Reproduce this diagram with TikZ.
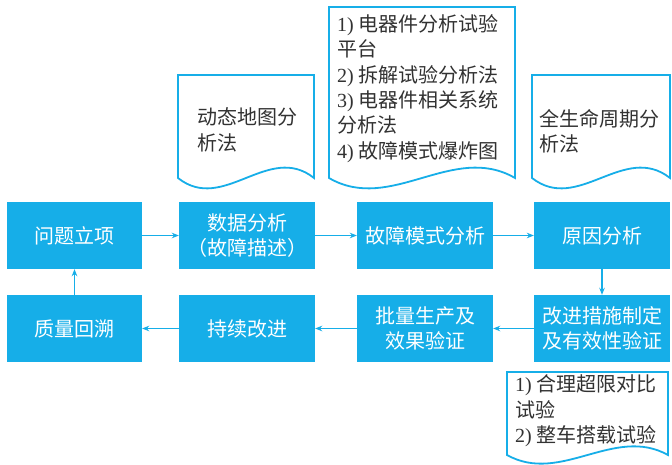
\documentclass[tikz,border=0pt]{standalone}
\usepackage{fontspec}
\setmainfont{Liberation Serif}
\newfontfamily\cjk{Noto Sans CJK SC}
\usetikzlibrary{arrows.meta}
\definecolor{flowblue}{RGB}{22,174,232}
\definecolor{doctext}{RGB}{50,50,50}
\tikzset{
  procbox/.style={fill=flowblue, draw=none, inner sep=0pt, minimum width=136pt, minimum height=67pt,
    text=white, font=\cjk\fontsize{20}{25}\selectfont, align=center},
  flowarrow/.style={draw=flowblue, line width=1.5pt, -{Stealth[length=7pt,width=5.5pt]}},
  docline/.style={draw=flowblue, line width=1.8pt, line join=miter},
  doctxt/.style={text=doctext, font=\cjk\fontsize{20}{25.4}\selectfont, align=left, inner sep=0pt, anchor=west}
}
\begin{document}
\begin{tikzpicture}[x=1pt,y=-1pt]
\useasboundingbox[fill=white] (0,0) rectangle (672,465);
% process boxes
\node[procbox, minimum width=135pt] (b1) at (74.5,235.5) {问题立项};
\node[procbox] (b2) at (247,235.5) {数据分析\\（故障描述）};
\node[procbox] (b3) at (425,235.5) {故障模式分析};
\node[procbox] (b4) at (602,235.5) {原因分析};
\node[procbox, minimum width=135pt] (c1) at (74.5,328.5) {质量回溯};
\node[procbox] (c2) at (247,328.5) {持续改进};
\node[procbox] (c3) at (425,328.5) {批量生产及\\效果验证};
\node[procbox] (c4) at (602,328.5) {改进措施制定\\及有效性验证};
% connectors
\draw[flowarrow] (b1) -- (b2);
\draw[flowarrow] (b2) -- (b3);
\draw[flowarrow] (b3) -- (b4);
\draw[flowarrow] (b4) -- (c4);
\draw[flowarrow] (c4) -- (c3);
\draw[flowarrow] (c3) -- (c2);
\draw[flowarrow] (c2) -- (c1);
\draw[flowarrow] (c1) -- (b1);
% document shapes
\draw[docline] (178,178) -- (178,75) -- (314,75) -- (314,178)
  .. controls (268.7,142) and (223.3,214) .. cycle;
\draw[docline] (329,178) -- (329,7) -- (515,7) -- (515,178)
  .. controls (453,142) and (391,214) .. cycle;
\draw[docline] (532,178) -- (532,75) -- (670,75) -- (670,178)
  .. controls (624,142) and (578,214) .. cycle;
\draw[docline] (507,455) -- (507,372) -- (668,372) -- (668,455)
  .. controls (614.3,425) and (560.7,485) .. cycle;
% document texts
\node[doctxt] (d1) at (197,130) {动态地图分\\析法};
\node[doctxt] (d2) at (337,88.5) {{\rmfamily 1)} 电器件分析试验\\平台\\{\rmfamily 2)} 拆解试验分析法\\{\rmfamily 3)} 电器件相关系统\\分析法\\{\rmfamily 4)} 故障模式爆炸图};
\node[doctxt] (d3) at (539,131) {全生命周期分\\析法};
\node[doctxt] (d4) at (515,411) {{\rmfamily 1)} 合理超限对比\\试验\\{\rmfamily 2)} 整车搭载试验};
\end{tikzpicture}
\end{document}
